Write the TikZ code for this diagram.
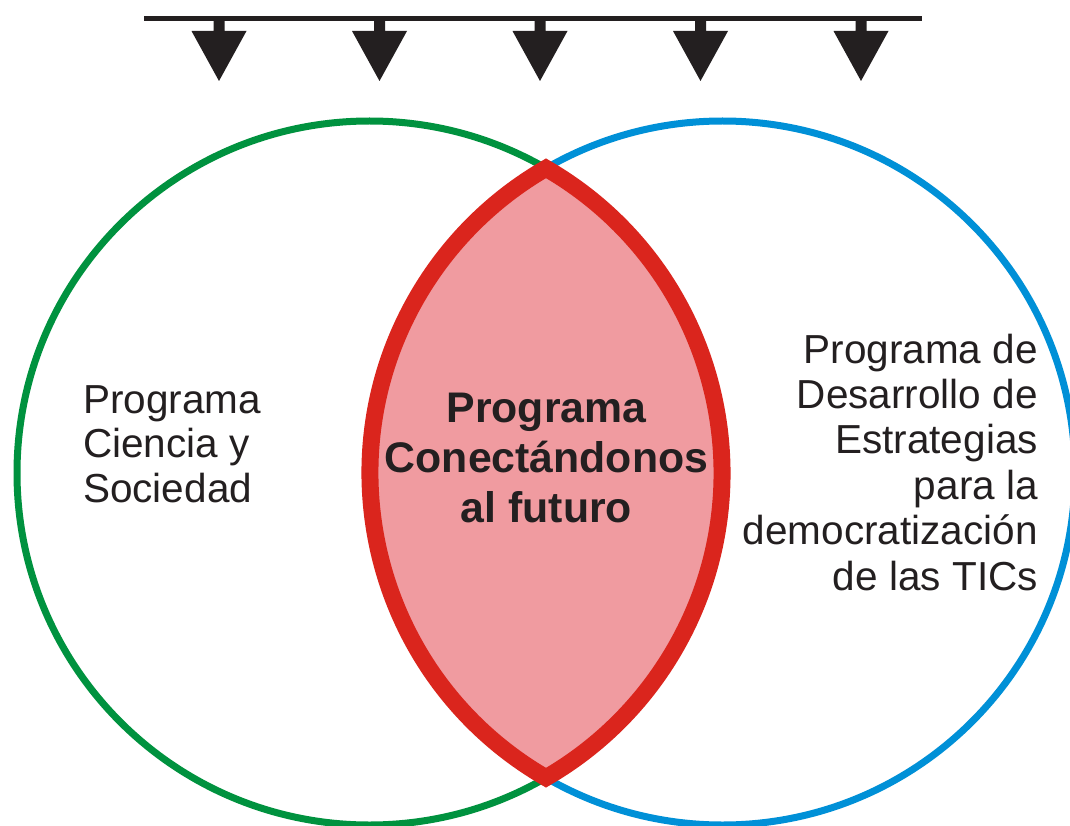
\documentclass[tikz,border=0pt]{standalone}
\usepackage{fontspec}
\setmainfont{Liberation Sans}
\usetikzlibrary{calc}
\definecolor{vgreen}{RGB}{0,146,63}
\definecolor{vblue}{RGB}{0,144,215}
\definecolor{vred}{RGB}{218,37,29}
\definecolor{vpink}{RGB}{240,155,160}
\definecolor{vdark}{RGB}{35,31,32}
\tikzset{
  ring/.style={line width=7pt},
  lens/.style={draw=vred, fill=vpink, line width=17pt, line join=miter},
  downarrow/.style={fill=vdark},
  sidetext/.style={inner sep=0pt, text=vdark},
  midtext/.style={inner sep=0pt, text=vdark, align=center, font={\bfseries\fontsize{42.8}{50}\selectfont}},
}
\begin{document}
\begin{tikzpicture}[x=1pt,y=-1pt]
\clip (0,0) rectangle (1070,826);
\fill[white] (0,0) rectangle (1070,826);
\def\rx{352.5}
\def\ry{352}
\coordinate (cg) at (369.5,473);
\coordinate (cb) at (722.5,473);
% top bar and arrows
\coordinate (barL) at (144,18.5);
\coordinate (barR) at (922,18.5);
\draw[vdark, line width=5pt] (barL) -- (barR);
\foreach \cx in {219,379.5,540,700.5,861}{
  \fill[downarrow] (\cx-5.5,20) -- (\cx+5.5,20) -- (\cx+5.5,31) -- (\cx+27.5,31)
    -- (\cx,81) -- (\cx-27.5,31) -- (\cx-5.5,31) -- cycle;
}
% circles
\draw[ring, vgreen] (cg) ellipse[x radius=\rx, y radius=\ry];
\draw[ring, vblue] (cb) ellipse[x radius=\rx, y radius=\ry];
% lens
\pgfmathsetmacro{\ang}{acos(176.5/\rx)}
\draw[lens] ($(cg)+({\rx*cos(-\ang)},{\ry*sin(-\ang)})$)
   arc[start angle=-\ang, end angle=\ang, x radius=\rx, y radius=\ry]
   arc[start angle=180-\ang, end angle=180+\ang, x radius=\rx, y radius=\ry] -- cycle;
% texts
\node[sidetext, align=left, anchor=base west, font={\fontsize{40.5}{44.5}\selectfont}] (left) at (83,502) {Programa\\Ciencia y\\Sociedad};
\node[sidetext, align=right, anchor=base east, font={\fontsize{40.5}{45.4}\selectfont}] (right) at (1038,590) {Programa de\\Desarrollo de\\Estrategias\\para la\\democratización\\de las TICs};
\node[midtext, anchor=base] (mid) at (546.5,522) {Programa\\Conectándonos\\al futuro};
\end{tikzpicture}
\end{document}
